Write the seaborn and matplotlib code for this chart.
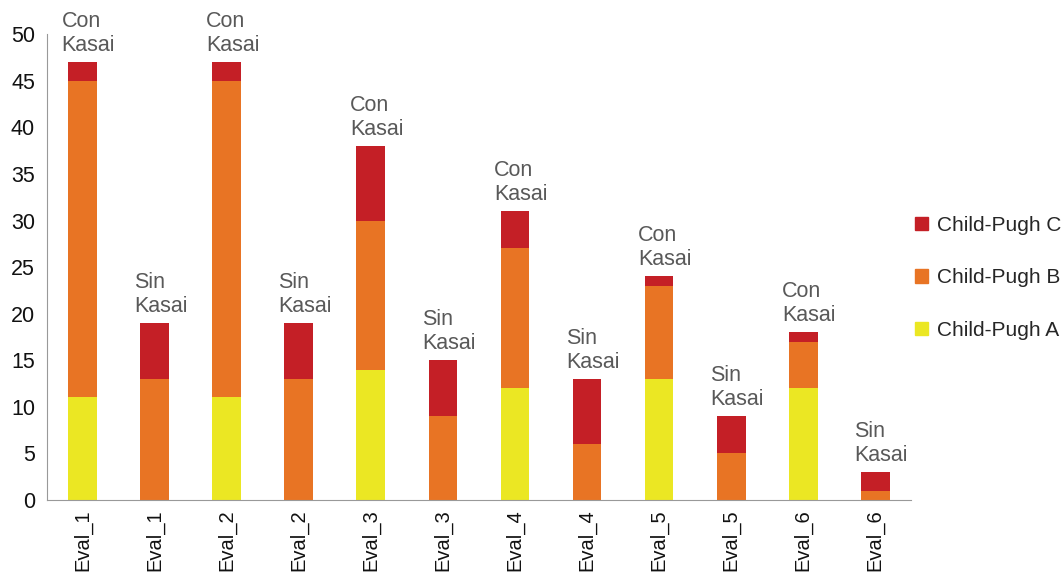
import numpy as np
import pandas as pd
import matplotlib
matplotlib.use("Agg")
import matplotlib.pyplot as plt
import seaborn as sns
from matplotlib.patches import Patch

# data
labels = ["Eval_1", "Eval_1", "Eval_2", "Eval_2", "Eval_3", "Eval_3",
          "Eval_4", "Eval_4", "Eval_5", "Eval_5", "Eval_6", "Eval_6"]
groups = ["Con\nKasai", "Sin\nKasai"] * 6
child_a = [11, 0, 11, 0, 14, 0, 12, 0, 13, 0, 12, 0]
child_b = [34, 13, 34, 13, 16, 9, 15, 6, 10, 5, 5, 1]
child_c = [2, 6, 2, 6, 8, 6, 4, 7, 1, 4, 1, 2]

col_a = "#EBE723"
col_b = "#E87424"
col_c = "#C41F26"

sns.set_style("white")
plt.rcParams["font.family"] = ["Liberation Sans", "DejaVu Sans"]

df = pd.DataFrame({"pos": range(len(labels)), "A": child_a, "B": child_b, "C": child_c})
df["AB"] = df["A"] + df["B"]
df["ABC"] = df["AB"] + df["C"]

fig, ax = plt.subplots(figsize=(10.62, 5.72), dpi=100)
fig.subplots_adjust(left=0.044, right=0.858, top=0.94, bottom=0.126)

# stacked bars: draw totals first, then overlay the lower parts
for col, c in [("ABC", col_c), ("AB", col_b), ("A", col_a)]:
    sns.barplot(data=df, x="pos", y=col, color=c, width=0.4, saturation=1,
                linewidth=0, ax=ax)

for i, (g, tot) in enumerate(zip(groups, df["ABC"])):
    ax.annotate(g, xy=(i, tot), xytext=(-21, 6), textcoords="offset pixels",
                ha="left", va="bottom", fontsize=15.5, color="#595959",
                linespacing=1.2)

ax.set_xlim(-0.5, len(labels) - 0.5)
ax.set_ylim(0, 50)
ax.set_yticks(range(0, 51, 5))
ax.set_xticks(range(len(labels)))
ax.set_xticklabels(labels, rotation=90, fontsize=14.5, color="#111111")
ax.set_xticks(np.arange(-0.5, len(labels), 1), minor=True)
ax.tick_params(axis="x", which="major", length=0, pad=7)
ax.tick_params(axis="x", which="minor", length=6, color="#999999", width=1)
ax.tick_params(axis="y", length=5, color="#999999", labelsize=15.5, labelcolor="#111111")
ax.set_xlabel("")
ax.set_ylabel("")

sns.despine(ax=ax)
for s in ["left", "bottom"]:
    ax.spines[s].set_color("#999999")

handles = [Patch(color=col_c, label="Child-Pugh C"),
           Patch(color=col_b, label="Child-Pugh B"),
           Patch(color=col_a, label="Child-Pugh A")]
ax.legend(handles=handles, loc="center left", bbox_to_anchor=(1.0, 0.477),
          frameon=False, fontsize=15, handlelength=0.6, handleheight=0.6,
          labelspacing=1.6, handletextpad=0.45, borderaxespad=0.0,
          borderpad=0.2)

fig.savefig("out.png", dpi=100)
